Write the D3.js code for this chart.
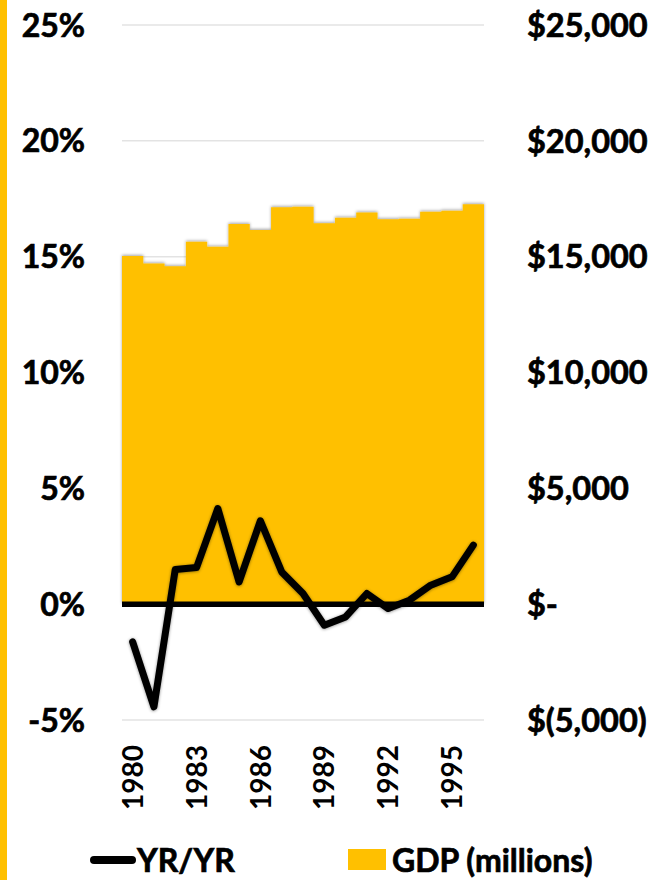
<!DOCTYPE html>
<html>
<head>
<meta charset="utf-8">
<script src="https://cdn.jsdelivr.net/npm/d3@7"></script>
<style>
  html, body { margin: 0; padding: 0; background: #ffffff; }
  svg { display: block; }
</style>
</head>
<body>
<svg id="chart" width="669" height="880"></svg>
<script>
// ---- Data ----
const years = [1980,1981,1982,1983,1984,1985,1986,1987,1988,1989,1990,1991,1992,1993,1994,1995,1996];
const gdpMillions = [15030,14710,14590,15640,15430,16410,16150,17130,17150,16440,16680,16910,16610,16640,16940,16980,17260];
const yrOverYr = [-1.63,-4.43,1.50,1.58,4.13,0.96,3.60,1.39,0.46,-0.91,-0.55,0.46,-0.19,0.17,0.82,1.18,2.55];
const leftTicks = [-5,0,5,10,15,20,25];
const leftTickLabels = ["-5%","0%","5%","10%","15%","20%","25%"];
const rightTicks = [-5000,0,5000,10000,15000,20000,25000];
const rightTickLabels = ["$(5,000)","$-","$5,000","$10,000","$15,000","$20,000","$25,000"];
const xTickYears = [1980,1983,1986,1989,1992,1995];
const legendLabels = ["YR/YR","GDP (millions)"];

// ---- Layout ----
const svg = d3.select("#chart");
const gold = "#FFC000";
const fontFam = "Lato, 'Open Sans', sans-serif";
const plotLeft = 122, plotRight = 484;
const yTop = 25, yBottom = 720;

const x = d3.scaleBand().domain(years).range([plotLeft, plotRight]).padding(0);
const yL = d3.scaleLinear().domain([-5, 25]).range([yBottom, yTop]);
const yR = d3.scaleLinear().domain([-5000, 25000]).range([yBottom, yTop]);
const bw = x.bandwidth();

// defs: shadows
const defs = svg.append("defs");
const f1 = defs.append("filter").attr("id","areaShadow").attr("x","-5%").attr("y","-5%").attr("width","110%").attr("height","110%");
f1.append("feDropShadow").attr("dx",0).attr("dy",-1).attr("stdDeviation",1.6).attr("flood-color","#000").attr("flood-opacity",0.35);
const f2 = defs.append("filter").attr("id","lineShadow").attr("x","-5%").attr("y","-10%").attr("width","110%").attr("height","120%");
f2.append("feDropShadow").attr("dx",0).attr("dy",0.5).attr("stdDeviation",1.4).attr("flood-color","#000").attr("flood-opacity",0.45);

// left decorative bar
svg.append("rect").attr("x",0).attr("y",0).attr("width",7).attr("height",880).attr("fill",gold);

// gridlines
svg.append("g").selectAll("line").data(leftTicks.filter(d => d !== 0)).join("line")
  .attr("x1", plotLeft).attr("x2", plotRight)
  .attr("y1", d => yL(d)).attr("y2", d => yL(d))
  .attr("stroke", "#e3e3e3").attr("stroke-width", 1.5);

// GDP step area
const areaData = years.map((yr, i) => ({ xv: x(yr), v: gdpMillions[i] }));
areaData.push({ xv: x(years[years.length - 1]) + bw, v: gdpMillions[gdpMillions.length - 1] });
const area = d3.area().curve(d3.curveStepAfter)
  .x(d => d.xv).y0(yR(0)).y1(d => yR(d.v));
svg.append("path").datum(areaData).attr("d", area).attr("fill", gold).attr("filter","url(#areaShadow)");

// zero line
svg.append("line").attr("x1", plotLeft).attr("x2", plotRight)
  .attr("y1", yL(0)).attr("y2", yL(0)).attr("stroke", "#000").attr("stroke-width", 5.5);

// YR/YR line
const line = d3.line().x((d, i) => x(years[i]) + bw / 2).y(d => yL(d));
svg.append("path").datum(yrOverYr).attr("d", line)
  .attr("fill", "none").attr("stroke", "#000").attr("stroke-width", 7)
  .attr("stroke-linejoin", "round").attr("stroke-linecap", "round")
  .attr("filter", "url(#lineShadow)");

function boldText(sel, size) {
  sel.attr("font-family", fontFam).attr("font-weight", 700)
    .attr("font-size", size).attr("fill", "#000")
    .attr("stroke", "#000").attr("stroke-width", 0.7).attr("paint-order", "stroke");
}

// left axis labels
svg.append("g").selectAll("text").data(leftTicks).join("text")
  .attr("x", 85).attr("y", d => yL(d)).attr("dy", "0.36em")
  .attr("text-anchor", "end")
  .call(boldText, 32)
  .text((d, i) => leftTickLabels[i]);

// right axis labels
svg.append("g").selectAll("text").data(rightTicks).join("text")
  .attr("x", 527).attr("y", d => yR(d)).attr("dy", "0.36em")
  .attr("text-anchor", "start")
  .call(boldText, 32.5)
  .text((d, i) => rightTickLabels[i]);

// x axis labels (rotated)
svg.append("g").selectAll("text").data(xTickYears).join("text")
  .attr("transform", d => `translate(${x(d) + bw / 2},745) rotate(-90)`)
  .attr("text-anchor", "end").attr("dy", "0.36em")
  .attr("font-family", fontFam).attr("font-weight", 700)
  .attr("font-size", 28).attr("fill", "#000")
  .text(d => String(d));

// legend
const lg = svg.append("g");
lg.append("line").attr("x1", 94).attr("x2", 132).attr("y1", 860).attr("y2", 860)
  .attr("stroke", "#000").attr("stroke-width", 8).attr("stroke-linecap", "round");
lg.append("text").attr("x", 137).attr("y", 872).call(boldText, 32).text(legendLabels[0]);
lg.append("rect").attr("x", 348).attr("y", 849).attr("width", 38).attr("height", 21).attr("fill", gold);
lg.append("text").attr("x", 392).attr("y", 872).call(boldText, 32).text(legendLabels[1]);
</script>
</body>
</html>
